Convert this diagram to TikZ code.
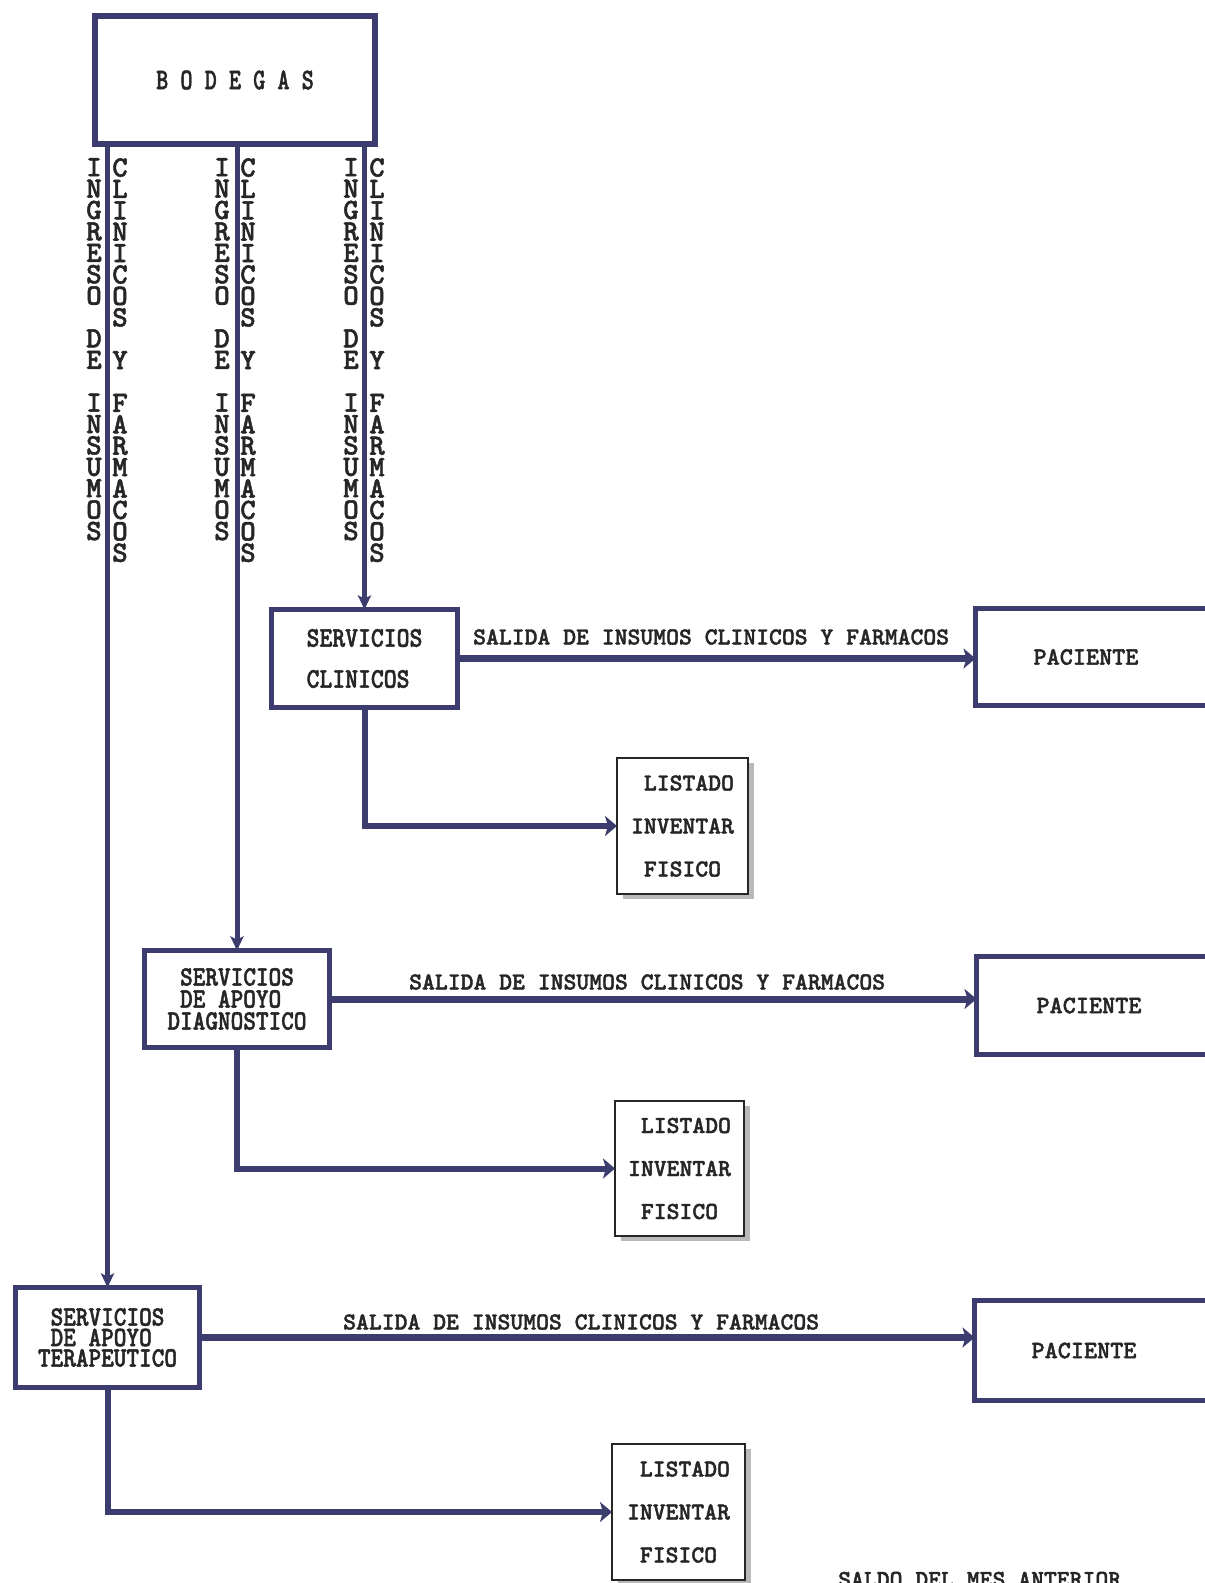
\documentclass[tikz,border=0pt]{standalone}
\usepackage{fontspec}
\usetikzlibrary{arrows.meta,shadows}
\newfontfamily\mf[FakeBold=1.6]{lmmonolt10-bold.otf}
\newfontfamily\mfc[FakeStretch=0.86,FakeBold=1.6]{lmmonolt10-bold.otf}
\definecolor{navy}{HTML}{3C3C6E}
\definecolor{ink}{HTML}{262626}
\begin{document}
\begin{tikzpicture}[x=1pt,y=-1pt,
  bx/.style={draw=navy, line width=5pt, fill=white, inner sep=0pt, outer sep=0pt,
    text=ink, font=\mfc\fontsize{28}{22}\selectfont, align=left},
  pac/.style={draw=navy, line width=5pt, fill=white, inner sep=0pt, outer sep=0pt,
    minimum width=262pt, anchor=west},
  paclab/.style={text=ink, font=\mf\fontsize{25}{25}\selectfont, inner sep=0pt},
  lst/.style={draw=ink, line width=2pt, fill=white, inner sep=0pt, outer sep=0pt,
    text=ink, font=\mf\fontsize{24.5}{43}\selectfont, align=center,
    drop shadow={shadow xshift=6pt, shadow yshift=-5pt, opacity=1, fill=gray!55}},
  lab/.style={text=ink, font=\mf\fontsize{24.5}{24.5}\selectfont, inner sep=0pt, anchor=west},
  vt/.style={text=ink, font=\mf\fontsize{29.5}{21.4}\selectfont, align=center, inner sep=0pt, anchor=north},
  arr/.style={draw=navy, line width=7pt, line join=miter, -{Stealth[length=12pt,width=20pt,inset=3pt]}},
  varr/.style={draw=navy, line width=5pt, -{Stealth[length=14pt,width=13pt,inset=3pt]}}
]
\useasboundingbox (0,0) rectangle (1205,1583);
\clip (0,0) rectangle (1205,1583);
\fill[white] (0,0) rectangle (1205,1583);

% main boxes
\node[bx, line width=6pt, minimum width=280pt, minimum height=128pt] (bod) at (235,80)
  {\mf\fontsize{30}{30}\selectfont\scalebox{0.77}[1]{B O D E G A S}};
\node[bx, minimum width=186pt, minimum height=98pt, font=\mfc\fontsize{28.5}{41}\selectfont] (clin) at (364.5,658.5)
  {SERVICIOS\\CLINICOS};
\node[bx, minimum width=185pt, minimum height=97pt] (diag) at (237,999)
  {~SERVICIOS\\~DE APOYO\\DIAGNOSTICO};
\node[bx, minimum width=184pt, minimum height=100pt, font=\mfc\fontsize{28}{20.5}\selectfont] (tera) at (107.5,1337.5)
  {~SERVICIOS\\~DE APOYO\\TERAPEUTICO};

% paciente boxes
\node[pac, minimum height=97pt, label={[paclab, xshift=-20.5pt]center:PACIENTE}] (pac1) at (975.5,657) {};
\node[pac, minimum height=98pt, label={[paclab, xshift=-18.5pt]center:PACIENTE}] (pac2) at (976.5,1005.5) {};
\node[pac, minimum height=100pt, label={[paclab, xshift=-21.5pt]center:PACIENTE}] (pac3) at (974.5,1350.5) {};

% listado boxes
\node[lst, minimum width=131pt, minimum height=136pt] (l1) at (682.5,826) {~LISTADO\\INVENTAR\\FISICO};
\node[lst, minimum width=129pt, minimum height=135pt] (l2) at (679.5,1168.5) {~LISTADO\\INVENTAR\\FISICO};
\node[lst, minimum width=133pt, minimum height=136pt] (l3) at (678.5,1512) {~LISTADO\\INVENTAR\\FISICO};

% vertical flows from BODEGAS
\draw[varr] (bod.south -| tera.north) -- (tera.north);
\draw[varr] (bod.south -| diag.north) -- (diag.north);
\draw[varr] (bod.south -| clin.north) -- (clin.north);

% vertical labels
\node[vt] (v1a) at (94,158) {I\\N\\G\\R\\E\\S\\O\\[21.4pt]D\\E\\[21.4pt]I\\N\\S\\U\\M\\O\\S};
\node[vt] (v1b) at (120,158) {C\\L\\I\\N\\I\\C\\O\\S\\[21.4pt]Y\\[21.4pt]F\\A\\R\\M\\A\\C\\O\\S};
\node[vt] (v2a) at (222,158) {I\\N\\G\\R\\E\\S\\O\\[21.4pt]D\\E\\[21.4pt]I\\N\\S\\U\\M\\O\\S};
\node[vt] (v2b) at (248,158) {C\\L\\I\\N\\I\\C\\O\\S\\[21.4pt]Y\\[21.4pt]F\\A\\R\\M\\A\\C\\O\\S};
\node[vt] (v3a) at (351,158) {I\\N\\G\\R\\E\\S\\O\\[21.4pt]D\\E\\[21.4pt]I\\N\\S\\U\\M\\O\\S};
\node[vt] (v3b) at (377,158) {C\\L\\I\\N\\I\\C\\O\\S\\[21.4pt]Y\\[21.4pt]F\\A\\R\\M\\A\\C\\O\\S};

% outputs to PACIENTE
\draw[arr] (clin.east) -- (clin.east -| pac1.west);
\draw[arr] (diag.east) -- (diag.east -| pac2.west);
\draw[arr] (tera.east) -- (tera.east -| pac3.west);
\node[lab] (s1) at (473,637) {SALIDA DE INSUMOS CLINICOS Y FARMACOS};
\node[lab] (s2) at (409,982) {SALIDA DE INSUMOS CLINICOS Y FARMACOS};
\node[lab] (s3) at (343,1322) {SALIDA DE INSUMOS CLINICOS Y FARMACOS};

% to LISTADO
\draw[arr, line width=6pt] (clin.south) |- (l1.west);
\draw[arr, line width=6pt] (diag.south) |- (l2.west);
\draw[arr, line width=6pt] (tera.south) |- (l3.west);

% cut-off text at bottom
\node[lab, anchor=base west] (saldo) at (838,1587) {SALDO DEL MES ANTERIOR};
\end{tikzpicture}
\end{document}
